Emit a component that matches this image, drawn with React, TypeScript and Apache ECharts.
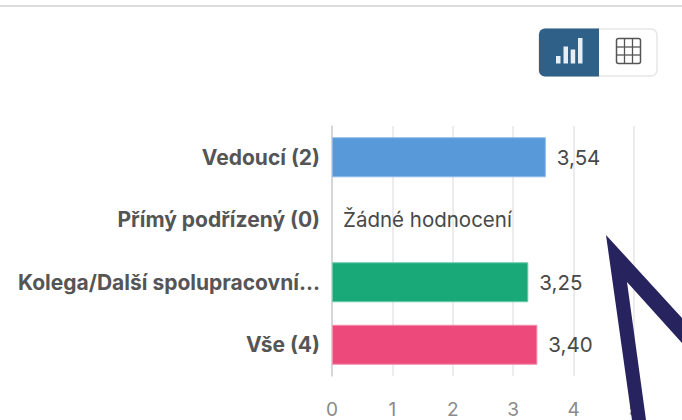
import React, { useEffect, useRef } from "react";
import * as echarts from "echarts";

const categories = ["Vedoucí (2)", "Přímý podřízený (0)", "Kolega/Další spolupracovní...", "Vše (4)"];
const values = [3.54, 0, 3.25, 3.4];
const barColors = ["#5899DA", "#FFFFFF", "#19A979", "#ED4A7B"];
const barBorders = ["#8DB9E6", "#FFFFFF", "#6CCBAA", "#F490AE"];
const noRatingLabel = "Žádné hodnocení";
const axisTicks = [0, 1, 2, 3, 4, 5];
const FONT = "Inter, sans-serif";

export default function App() {
  const ref = useRef<HTMLDivElement>(null);
  useEffect(() => {
    document.body.style.margin = "0";
    const chart = echarts.init(ref.current!, null, { renderer: "svg" });
    chart.setOption({
      animation: false,
      backgroundColor: "#fff",
      grid: { left: 332, right: 48, top: 126, bottom: 44, containLabel: false },
      xAxis: {
        type: "value",
        min: axisTicks[0],
        max: axisTicks[axisTicks.length - 1],
        interval: 1,
        axisLine: { show: false },
        axisTick: { show: false },
        axisLabel: { color: "#8a8a8a", fontSize: 19, margin: 24, fontFamily: FONT },
        splitLine: { show: true, lineStyle: { color: "#e6e6e6", width: 1.5 } },
      },
      yAxis: {
        type: "category",
        inverse: true,
        data: categories,
        axisLine: { show: true, lineStyle: { color: "#cfcfcf", width: 1.5 } },
        axisTick: { show: false },
        axisLabel: { color: "#555", fontSize: 21, fontWeight: "bold", margin: 12, fontFamily: FONT, padding: [3, 0, 0, 0] },
      },
      series: [
        {
          type: "bar",
          barWidth: 40,
          data: values.map((v, i) => ({
            value: v,
            itemStyle: { color: barColors[i], borderColor: barBorders[i], borderWidth: v ? 1 : 0 },
          })),
          label: {
            show: true,
            position: "right",
            distance: 11,
            color: "#484848",
            fontSize: 20.5,
            fontFamily: FONT,
            padding: [3, 0, 0, 0],
            formatter: (p: any) => (p.value ? p.value.toFixed(2).replace(".", ",") : noRatingLabel),
          },
        },
      ],
      graphic: [
        { type: "line", shape: { x1: 0, y1: 6, x2: 682, y2: 6 }, style: { stroke: "#dcdcdc", lineWidth: 2 } },
        { type: "rect", shape: { x: 539, y: 29, width: 118, height: 47, r: 6 }, style: { fill: "#fff", stroke: "#e6e6e6", lineWidth: 1.5 } },
        { type: "rect", shape: { x: 539, y: 28.5, width: 60, height: 48, r: [6, 0, 0, 6] }, style: { fill: "#2F6088" } },
        { type: "rect", shape: { x: 556, y: 56, width: 4.5, height: 7.5 }, style: { fill: "#e8eef3" } },
        { type: "rect", shape: { x: 563.5, y: 46.5, width: 4.5, height: 17 }, style: { fill: "#e8eef3" } },
        { type: "rect", shape: { x: 570.7, y: 49.5, width: 4.5, height: 14 }, style: { fill: "#e8eef3" } },
        { type: "rect", shape: { x: 578, y: 38, width: 4.5, height: 25.5 }, style: { fill: "#e8eef3" } },
        { type: "rect", shape: { x: 616.5, y: 38.5, width: 24, height: 25, r: 2 }, style: { fill: "#fff", stroke: "#555", lineWidth: 1.5 } },
        { type: "line", shape: { x1: 624.5, y1: 38.5, x2: 624.5, y2: 63.5 }, style: { stroke: "#555", lineWidth: 1.3 } },
        { type: "line", shape: { x1: 632.5, y1: 38.5, x2: 632.5, y2: 63.5 }, style: { stroke: "#555", lineWidth: 1.3 } },
        { type: "line", shape: { x1: 616.5, y1: 47, x2: 640.5, y2: 47 }, style: { stroke: "#555", lineWidth: 1.3 } },
        { type: "line", shape: { x1: 616.5, y1: 55, x2: 640.5, y2: 55 }, style: { stroke: "#555", lineWidth: 1.3 } },
        {
          type: "polygon",
          z: 100,
          shape: { points: [[606, 235], [682, 318], [682, 343], [627, 282], [646, 420], [632, 420]] },
          style: { fill: "#27235F" },
        },
      ],
    });
    return () => chart.dispose();
  }, []);
  return <div ref={ref} style={{ width: 682, height: 420 }} />;
}
